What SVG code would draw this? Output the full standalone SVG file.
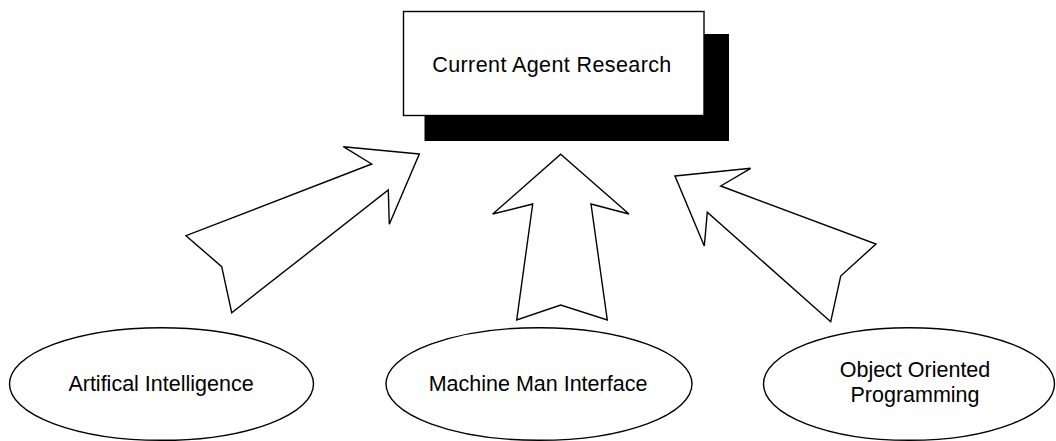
<svg xmlns="http://www.w3.org/2000/svg" width="1056" height="441" viewBox="0 0 1056 441">
  <style>
    .shape { fill: #ffffff; stroke: #000000; stroke-width: 1.4; stroke-linejoin: miter; }
    .label { font-family: "Liberation Sans", Arial, sans-serif; font-size: 21.5px; fill: #000000; text-anchor: middle; }
  </style>
  <rect width="1056" height="441" fill="#ffffff"/>
  <g id="current-agent-research">
    <rect x="424.5" y="34" width="304.5" height="107" fill="#000000"/>
    <rect class="shape" x="403.5" y="11.5" width="300.5" height="104"/>
    <text class="label" x="552" y="72" style="letter-spacing:0.4px">Current Agent Research</text>
  </g>
  <g id="connectors">
    <polygon class="shape" points="419.3,154 343.3,146.7 371.7,164 186,235.7 221.7,266.7 231.7,312.7 388.3,190 389.3,224.3"/>
    <polygon class="shape" points="560.7,154.3 629,214 591,204 607.3,320 560.7,305 516.7,320 532.7,204 492.7,214"/>
    <polygon class="shape" points="675,176 750.7,168.3 720.7,186 876,244 840.7,276 830.7,321.7 707.3,212.3 704.3,246"/>
  </g>
  <g id="artificial-intelligence">
    <ellipse class="shape" cx="161.5" cy="384" rx="152" ry="56.3"/>
    <text class="label" x="161" y="391">Artifical Intelligence</text>
  </g>
  <g id="machine-man-interface">
    <ellipse class="shape" cx="539" cy="384" rx="153" ry="56.3"/>
    <text class="label" x="538" y="391">Machine Man Interface</text>
  </g>
  <g id="object-oriented-programming">
    <ellipse class="shape" cx="909" cy="384" rx="145.5" ry="56.3"/>
    <text class="label" x="915" y="377">Object Oriented</text>
    <text class="label" x="915" y="402">Programming</text>
  </g>
</svg>
